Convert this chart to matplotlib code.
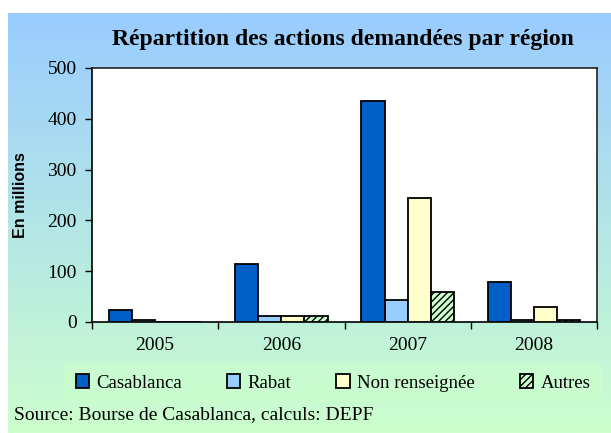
import numpy as np
import matplotlib
matplotlib.use("Agg")
import matplotlib.pyplot as plt
from matplotlib.colors import LinearSegmentedColormap

years = ["2005", "2006", "2007", "2008"]
casablanca = [24, 114, 436, 78]
rabat = [3, 11, 43, 4]
non_renseignee = [0, 11, 244, 30]
autres = [0, 11, 60, 3]
series_names = ["Casablanca", "Rabat", "Non renseignée", "Autres"]
yticks = [0, 100, 200, 300, 400, 500]

matplotlib.rcParams["hatch.color"] = "#333333"

W, H = 611, 433
fig = plt.figure(figsize=(W / 100, H / 100), dpi=100)
fig.patch.set_facecolor("white")

# gradient background panel
bg = fig.add_axes([8 / W, 0, 1 - 8 / W, (H - 13) / H])
cmap = LinearSegmentedColormap.from_list("g", ["#99ccff", "#ccffcc"])
grad = np.linspace(0, 1, 256).reshape(-1, 1)
bg.imshow(grad, aspect="auto", cmap=cmap, extent=[0, 1, 0, 1], origin="upper")
bg.set_axis_off()
bg.set_zorder(0)

serif = "Liberation Serif"
ax = fig.add_axes([92 / W, (H - 322) / H, (597 - 92) / W, (322 - 68) / H])
ax.set_zorder(2)
ax.set_facecolor("white")

x = np.arange(len(years))
bw = 0.183
colors = ["#0060c8", "#99ccff", "#ffffcc", "#ccffcc"]
data = [casablanca, rabat, non_renseignee, autres]
for i, (vals, c, name) in enumerate(zip(data, colors, series_names)):
    offs = (i - 1.5) * bw
    hatch = "/////" if name == "Autres" else None
    ax.bar(x + offs, vals, bw, color=c, edgecolor="black", linewidth=1.3,
           hatch=hatch, label=name, zorder=3)

ax.set_xlim(-0.5, len(years) - 0.5)
ax.set_ylim(0, 500)
ax.set_yticks(yticks)
ax.set_yticklabels([str(v) for v in yticks], fontfamily=serif, fontsize=14)
ax.set_xticks(np.arange(len(years) + 1) - 0.5, minor=False)
ax.set_xticklabels([""] * (len(years) + 1))
ax.set_xticks(x, minor=True)
ax.set_xticklabels(years, minor=True, fontfamily=serif, fontsize=14)
ax.tick_params(axis="x", which="minor", length=0, pad=11)
ax.tick_params(axis="x", which="major", length=5, direction="out", width=1)
ax.tick_params(axis="y", length=5, direction="out", width=1, pad=6)
for s in ["left", "bottom"]:
    ax.spines[s].set_color("black")
    ax.spines[s].set_linewidth(1.2)
for s in ["top", "right"]:
    ax.spines[s].set_color("#222222")
    ax.spines[s].set_linewidth(1.2)

ax.set_ylabel("En millions", fontfamily="Liberation Sans", fontweight="bold",
              fontsize=11.5, labelpad=14)

fig.text((107 + 578) / 2 / W, 1 - 40 / H, "Répartition des actions demandées par région",
         ha="center", va="center", fontfamily=serif, fontweight="bold", fontsize=17)

leg = fig.legend(loc="center", bbox_to_anchor=(0.545, 1 - 383 / H), ncol=4,
                 prop={"family": serif, "size": 13.5}, frameon=True,
                 handlelength=0.7, handleheight=0.7, handletextpad=0.4,
                 columnspacing=2.4, borderpad=0.6, fancybox=False)
leg.get_frame().set_facecolor("#ccffcc")
leg.get_frame().set_edgecolor("none")
leg.get_frame().set_alpha(0.5)
leg.set_zorder(3)

fig.text(14 / W, 1 - 415 / H, "Source: Bourse de Casablanca, calculs: DEPF",
         ha="left", va="center", fontfamily=serif, fontsize=14)

fig.savefig("out.png", dpi=100)
